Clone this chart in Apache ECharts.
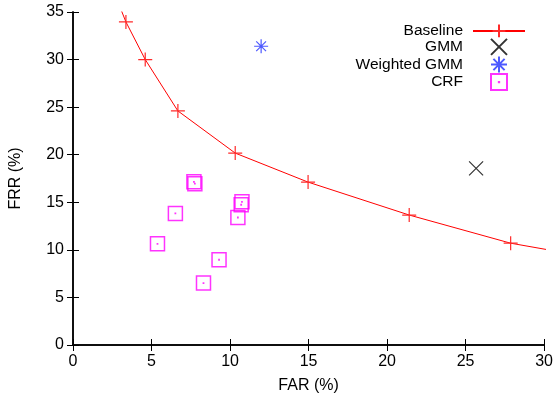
<!DOCTYPE html>
<html>
<head>
<meta charset="utf-8">
<script src="https://cdn.jsdelivr.net/npm/echarts@6/dist/echarts.min.js"></script>
<style>
  html, body { margin: 0; padding: 0; background: #fff; }
  #chart { width: 556px; height: 399px; }
</style>
</head>
<body>
<div id="chart"></div>
<script>
// Baseline curve (FAR %, FRR %); first and last points lie outside the plot and only extend the line
const baselineFar = [2.9, 3.37, 4.6, 6.68, 10.33, 14.97, 21.41, 27.87, 32.0];
const baselineFrr = [35.9, 33.96, 30.0, 24.6, 20.17, 17.12, 13.66, 10.7, 9.5];

const gmmFar = [25.67];
const gmmFrr = [18.56];

const weightedGmmFar = [11.98];
const weightedGmmFrr = [31.4];

const crfFar = [7.7, 7.76, 10.76, 10.71, 10.5, 6.52, 5.38, 9.3, 8.31];
const crfFrr = [17.15, 16.95, 15.05, 14.74, 13.4, 13.83, 10.64, 8.96, 6.51];

const xTicks = [0, 30, 5];
const yTicks = [0, 35, 5];

const seriesNames = ['Baseline', 'GMM', 'Weighted GMM', 'CRF'];

const zip = (xs, ys) => xs.map((x, i) => [x, ys[i]]);

const plusPath = 'path://M0,5L10,5M5,0L5,10';
const crossPath = 'path://M0,0L10,10M10,0L0,10';
const starPath = 'path://M0,5L10,5M5,0L5,10M1.5,1.5L8.5,8.5M8.5,1.5L1.5,8.5';
const boxPath = 'path://M0,0L10,0L10,10L0,10ZM4.9,4.9L5.1,4.9L5.1,5.1L4.9,5.1Z';

const font = 'Liberation Sans, Arial, sans-serif';

const chart = echarts.init(document.getElementById('chart'));

const axisCommon = {
  type: 'value',
  axisLine: { show: true, lineStyle: { color: '#000', width: 1.5 } },
  axisTick: { show: true, inside: true, length: 6, lineStyle: { color: '#000', width: 1 } },
  splitLine: { show: false },
};

chart.setOption({
  animation: false,
  backgroundColor: '#fff',
  grid: { left: 72, right: 11, top: 12, bottom: 53 },
  legend: {
    data: seriesNames,
    right: 25,
    top: 17,
    orient: 'vertical',
    align: 'right',
    itemWidth: 52,
    itemHeight: 16,
    itemGap: -3.4,
    selectedMode: false,
    textStyle: {
      fontFamily: font, fontSize: 15.5, color: '#000',
      width: 130, align: 'right', lineHeight: 16, padding: [0, 5, 0, 0],
    },
  },
  xAxis: [
    Object.assign({}, axisCommon, {
      position: 'bottom',
      min: xTicks[0], max: xTicks[1], interval: xTicks[2],
      name: 'FAR (%)',
      nameLocation: 'middle',
      nameGap: 33,
      nameTextStyle: { fontFamily: font, fontSize: 16, color: '#000' },
      axisLabel: { fontFamily: font, fontSize: 16, color: '#000', margin: 9 },
    }),
    Object.assign({}, axisCommon, {
      position: 'top',
      min: xTicks[0], max: xTicks[1], interval: xTicks[2],
      axisLabel: { show: false },
    }),
  ],
  yAxis: [
    Object.assign({}, axisCommon, {
      position: 'left',
      min: yTicks[0], max: yTicks[1], interval: yTicks[2],
      name: 'FRR (%)',
      nameLocation: 'middle',
      nameGap: 49,
      nameTextStyle: { fontFamily: font, fontSize: 16, color: '#000' },
      axisLabel: { fontFamily: font, fontSize: 16, color: '#000', margin: 9 },
    }),
    Object.assign({}, axisCommon, {
      position: 'right',
      min: yTicks[0], max: yTicks[1], interval: yTicks[2],
      axisLabel: { show: false },
    }),
  ],
  series: [
    {
      name: seriesNames[0],
      type: 'line',
      data: zip(baselineFar, baselineFrr),
      clip: true,
      color: '#ff0000',
      symbol: plusPath,
      symbolSize: 14,
      showAllSymbol: true,
      lineStyle: { color: '#ff0000', width: 1 },
      itemStyle: { color: 'none', borderColor: '#ff2a2a', borderWidth: 1.2 },
      z: 3,
    },
    {
      name: seriesNames[1],
      type: 'scatter',
      data: zip(gmmFar, gmmFrr),
      color: '#000',
      symbol: crossPath,
      symbolSize: 14,
      itemStyle: { color: 'none', borderColor: '#000', borderWidth: 1.2 },
    },
    {
      name: seriesNames[2],
      type: 'scatter',
      data: zip(weightedGmmFar, weightedGmmFrr),
      color: '#0000ff',
      symbol: starPath,
      symbolSize: 14,
      itemStyle: { color: 'none', borderColor: '#2030ff', borderWidth: 1.2 },
    },
    {
      name: seriesNames[3],
      type: 'scatter',
      data: zip(crfFar, crfFrr),
      color: '#ff00ff',
      symbol: boxPath,
      symbolSize: 14,
      itemStyle: { color: 'none', borderColor: '#ff00ff', borderWidth: 1.5 },
    },
  ],
});
</script>
</body>
</html>
